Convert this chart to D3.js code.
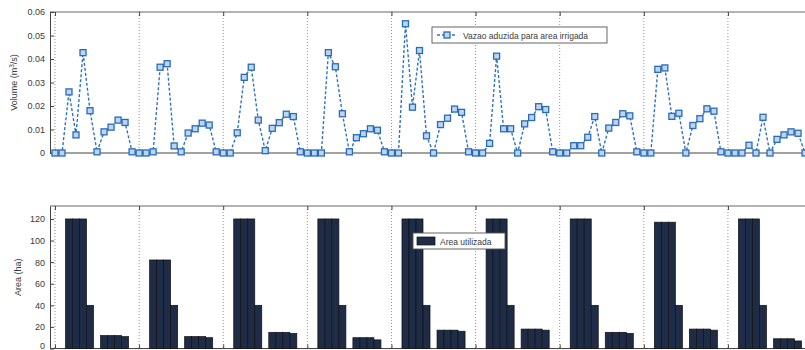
<!DOCTYPE html>
<html>
<head>
<meta charset="utf-8">
<script src="https://cdn.jsdelivr.net/npm/d3@7"></script>
<style>
  html, body { margin: 0; padding: 0; background: #fff; }
  svg { display: block; font-family: "Liberation Sans", Arial, sans-serif; }
</style>
</head>
<body>
<svg id="chart" width="805" height="350"></svg>
<script>
// Monthly flow delivered to the irrigated area (m3/s), nine years of 12 months
const flow = [
  0, 0, 0.026, 0.0077, 0.0427, 0.018, 0.0005, 0.009, 0.011, 0.014, 0.013, 0.0005,
  0, 0, 0.0005, 0.0365, 0.038, 0.003, 0.0005, 0.0085, 0.0103, 0.0127, 0.0119, 0.0005,
  0, 0, 0.0086, 0.0322, 0.0365, 0.014, 0.001, 0.0105, 0.0129, 0.0165, 0.0155, 0.0005,
  0, 0, 0, 0.0427, 0.0367, 0.0167, 0.0005, 0.0065, 0.0082, 0.0103, 0.0097, 0.0005,
  0, 0, 0.055, 0.0195, 0.0436, 0.0073, 0, 0.0121, 0.0148, 0.0187, 0.0173, 0.0005,
  0, 0, 0.0041, 0.0412, 0.0103, 0.0103, 0, 0.0124, 0.0151, 0.0197, 0.0185, 0.0005,
  0, 0, 0.0031, 0.0031, 0.0067, 0.0155, 0, 0.0106, 0.013, 0.0167, 0.0158, 0.0005,
  0, 0, 0.0356, 0.0362, 0.0156, 0.0169, 0, 0.0117, 0.0146, 0.0188, 0.0178, 0.0005,
  0, 0, 0, 0.0033, 0, 0.0152, 0, 0.0058, 0.0077, 0.009, 0.0084, 0
];

// Monthly irrigated area (ha)
const area = [
  0, 0, 120, 120, 120, 40, 0, 12, 12, 12, 11, 0,
  0, 0, 82, 82, 82, 40, 0, 11, 11, 11, 10, 0,
  0, 0, 120, 120, 120, 40, 0, 15, 15, 15, 14, 0,
  0, 0, 120, 120, 120, 40, 0, 10, 10, 10, 8, 0,
  0, 0, 120, 120, 120, 40, 0, 17, 17, 17, 16, 0,
  0, 0, 120, 120, 120, 40, 0, 18, 18, 18, 17, 0,
  0, 0, 120, 120, 120, 40, 0, 15, 15, 15, 14, 0,
  0, 0, 117, 117, 117, 40, 0, 18, 18, 18, 17, 0,
  0, 0, 120, 120, 120, 40, 0, 9, 9, 9, 7, 0
];

const months = flow.map((d, i) => i);
const yearStarts = [0, 12, 24, 36, 48, 60, 72, 84, 96, 108];

const flowTicks = [0, 0.01, 0.02, 0.03, 0.04, 0.05, 0.06];
const flowTickLabels = ["0", "0.01", "0.02", "0.03", "0.04", "0.05", "0.06"];
const areaTicks = [0, 20, 40, 60, 80, 100, 120];
const areaTickLabels = ["0", "20", "40", "60", "80", "100", "120"];

const flowLegend = "Vazao aduzida para area irrigada";
const areaLegend = "Area utilizada";

const svg = d3.select("#chart");
const axisColor = "#444";
const textColor = "#3a3a3a";
const lineBlue = "#2f72bf";

const x = d3.scaleLinear().domain([-0.71, 110]).range([50, 50 + 110.71 * 7.01]);
const yTop = d3.scaleLinear().domain([0, 0.06]).range([153, 12]);
const yBot = d3.scaleLinear().domain([0, 132]).range([348.5, 206]);
const rightEdge = 830;

function panel(y, ticks, labels, title, titleX) {
  const g = svg.append("g");
  const [y0, y1] = y.range();
  // dotted yearly grid
  g.selectAll("line.grid").data(yearStarts).join("line")
    .attr("class", "grid")
    .attr("x1", d => x(d)).attr("x2", d => x(d))
    .attr("y1", y1).attr("y2", y0)
    .attr("stroke", "#777").attr("stroke-width", 0.8)
    .attr("stroke-dasharray", "1,2");
  // frame
  g.append("line").attr("x1", x.range()[0]).attr("x2", rightEdge).attr("y1", y1).attr("y2", y1)
    .attr("stroke", "#666").attr("stroke-width", 1);
  g.append("line").attr("x1", x.range()[0]).attr("x2", rightEdge).attr("y1", y0).attr("y2", y0)
    .attr("stroke", axisColor).attr("stroke-width", 1);
  // left axis, ticks pointing inside
  const ax = g.append("g").attr("transform", `translate(${x.range()[0]},0)`)
    .call(d3.axisLeft(y).tickValues(ticks).tickFormat((d, i) => labels[i])
      .tickSizeInner(-4).tickSizeOuter(0).tickPadding(5));
  ax.select(".domain").attr("stroke", axisColor);
  ax.selectAll(".tick line").attr("stroke", axisColor);
  ax.selectAll("text").attr("fill", textColor).style("font-size", "9px")
    .style("font-family", "'Liberation Sans', Arial, sans-serif");
  // x ticks at the year boundaries, top and bottom
  const bt = g.append("g").attr("transform", `translate(0,${y0})`)
    .call(d3.axisBottom(x).tickValues(yearStarts).tickFormat("").tickSizeInner(-4).tickSizeOuter(0));
  bt.select(".domain").remove();
  bt.selectAll(".tick line").attr("stroke", axisColor);
  const tt = g.append("g").attr("transform", `translate(0,${y1})`)
    .call(d3.axisTop(x).tickValues(yearStarts).tickFormat("").tickSizeInner(-4).tickSizeOuter(0));
  tt.select(".domain").remove();
  tt.selectAll(".tick line").attr("stroke", axisColor);
  // axis title
  g.append("text")
    .attr("transform", `translate(${titleX},${(y0 + y1) / 2}) rotate(-90)`)
    .attr("text-anchor", "middle")
    .attr("fill", textColor).style("font-size", "9px")
    .call(t => {
      if (Array.isArray(title)) {
        title.forEach(p => t.append("tspan").text(p.t)
          .attr("baseline-shift", p.sup ? "super" : null)
          .style("font-size", p.sup ? "6.5px" : null));
      } else {
        t.text(title);
      }
    });
  return { g, ax };
}

// ---- upper panel: flow ----
const flowPanel = panel(yTop, flowTicks, flowTickLabels,
  [{t: "Volume (m"}, {t: "3", sup: true}, {t: "/s)"}], 17);
const gTop = flowPanel.g;

const flowLine = d3.line().x((d, i) => x(months[i])).y(d => yTop(d));
gTop.append("path").datum(flow)
  .attr("d", flowLine)
  .attr("fill", "none")
  .attr("stroke", lineBlue).attr("stroke-width", 1.4)
  .attr("stroke-dasharray", "3,2");

const ms = 6;
gTop.selectAll("rect.mk").data(flow).join("rect")
  .attr("class", "mk")
  .attr("x", (d, i) => x(months[i]) - ms / 2)
  .attr("y", d => yTop(d) - ms / 2)
  .attr("width", ms).attr("height", ms)
  .attr("fill", "#bcd5f0")
  .attr("stroke", "#2a6bb8").attr("stroke-width", 1.3);

// legend (upper)
const lg1 = gTop.append("g").attr("transform", "translate(432,27)");
lg1.append("rect").attr("width", 175).attr("height", 16)
  .attr("fill", "#fff").attr("stroke", "#555").attr("stroke-width", 0.9);
lg1.append("line").attr("x1", 5).attr("x2", 25).attr("y1", 8).attr("y2", 8)
  .attr("stroke", lineBlue).attr("stroke-width", 1.4).attr("stroke-dasharray", "3,2");
lg1.append("rect").attr("x", 15 - ms / 2).attr("y", 8 - ms / 2).attr("width", ms).attr("height", ms)
  .attr("fill", "#bcd5f0").attr("stroke", "#2a6bb8").attr("stroke-width", 1.3);
lg1.append("text").attr("x", 31).attr("y", 11.5).text(flowLegend)
  .attr("fill", textColor).style("font-size", "8.5px");

// ---- lower panel: area ----
const areaPanel = panel(yBot, areaTicks, areaTickLabels, "Area (ha)", 21);
const gBot = areaPanel.g;
// the zero label sits on the lower edge of the page; keep it inside
areaPanel.ax.selectAll(".tick").filter(d => d === 0).select("text").attr("dy", "0.05em");

const bw = x(1) - x(0);
gBot.selectAll("rect.bar").data(area).join("rect")
  .attr("class", "bar")
  .attr("x", (d, i) => x(months[i]) - bw / 2)
  .attr("y", d => yBot(d))
  .attr("width", bw)
  .attr("height", d => yBot(0) - yBot(d))
  .attr("fill", "#1e2c47")
  .attr("stroke", "#111")
  .attr("stroke-width", 0.7);

// legend (lower)
const lg2 = gBot.append("g").attr("transform", "translate(413,233)");
lg2.append("rect").attr("width", 92).attr("height", 16)
  .attr("fill", "#fff").attr("stroke", "#555").attr("stroke-width", 0.9);
lg2.append("rect").attr("x", 4).attr("y", 4).attr("width", 18).attr("height", 8)
  .attr("fill", "#1e2c47").attr("stroke", "#111").attr("stroke-width", 0.7);
lg2.append("text").attr("x", 27).attr("y", 11.5).text(areaLegend)
  .attr("fill", textColor).style("font-size", "8.5px");
</script>
</body>
</html>
